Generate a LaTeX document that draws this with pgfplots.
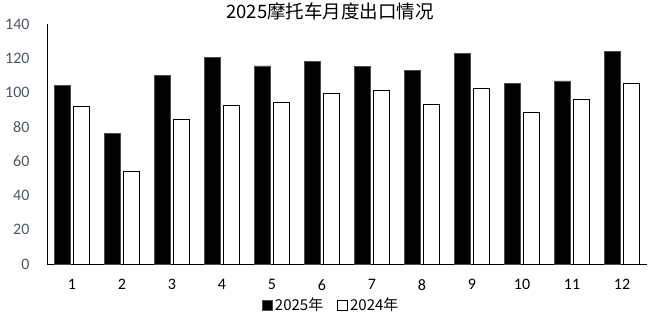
\documentclass[border=0pt]{standalone}
\usepackage{pgfplots}
\pgfplotsset{compat=1.18}
\usepackage{fontspec}
\setmainfont{Carlito}
\newfontfamily\cjk{Noto Sans CJK SC}
\definecolor{ylab}{RGB}{80,86,96}
\begin{document}
\begin{tikzpicture}
\useasboundingbox (-47pt,-56pt) rectangle (607pt,264pt);
\begin{axis}[
  scale only axis,
  width=600pt, height=240pt,
  xmin=0.5, xmax=12.5, ymin=0, ymax=140,
  axis x line=bottom, axis y line=left,
  axis line style={-, black, line width=0.9pt},
  xtick={1,...,12},
  ytick={0,20,...,140},
  major tick length=0pt,
  ybar, bar width=15.5pt,
  /pgf/number format/assume math mode=true,
  yticklabel style={font=\fontsize{16}{19}\selectfont, text=ylab, xshift=-14pt},
  xticklabel style={font=\fontsize{16}{19}\selectfont, text=black, yshift=-12pt},
  title={\cjk 2025摩托车月度出口情况},
  title style={font=\fontsize{18.5}{21}\selectfont, at={(0.472,1)}, anchor=center, yshift=7pt},
  legend style={draw=none, at={(0.474,-0.171)}, anchor=center, legend columns=2,
     font=\fontsize{15}{18}\selectfont\cjk, /tikz/every even column/.append style={column sep=12pt},
     inner sep=0pt},
  legend image code/.code={\draw[#1] (0pt,-5pt) rectangle (10pt,5pt);},
  legend cell align=left,
  clip=false,
]
\addplot[fill=black, draw=gray!60!black, line width=0.6pt, bar shift=-9.5pt] coordinates {
(1,104.2) (2,76.0) (3,109.9) (4,120.4) (5,115.5) (6,118.2) (7,115.1) (8,112.8) (9,122.9) (10,105.4) (11,106.8) (12,123.9)};
\addplot[fill=white, draw=black, line width=0.9pt, bar shift=9.5pt] coordinates {
(1,92.0) (2,54.1) (3,84.6) (4,92.6) (5,94.5) (6,99.6) (7,101.5) (8,93.2) (9,102.5) (10,88.5) (11,95.7) (12,105.6)};
\legend{2025年,2024年}
\end{axis}
\end{tikzpicture}
\end{document}
